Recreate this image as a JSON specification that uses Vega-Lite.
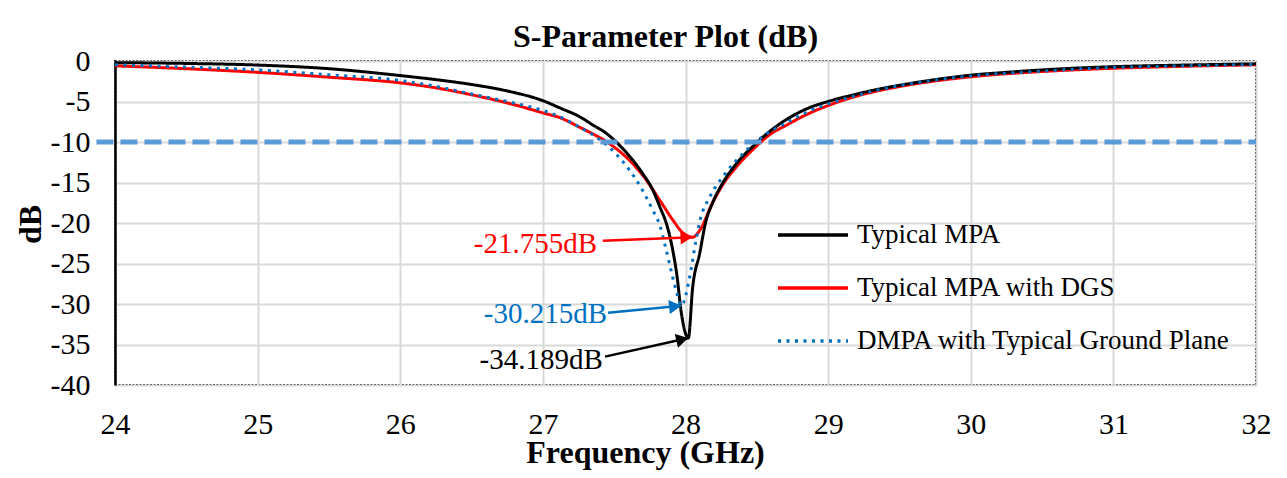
{
  "$schema": "https://vega.github.io/schema/vega-lite/v6.json",
  "width": 1141,
  "height": 324,
  "autosize": "none",
  "padding": {"left": 115, "top": 61, "right": 31, "bottom": 93},
  "background": "white",
  "title": {
    "text": "S-Parameter Plot (dB)",
    "font": "Liberation Serif",
    "fontSize": 32,
    "fontWeight": "bold",
    "color": "#000000",
    "anchor": "middle",
    "frame": "group",
    "dx": -20,
    "offset": 0,
    "dy": 8
  },
  "config": {
    "view": {"stroke": "#000000", "strokeWidth": 2, "strokeDash": [2, 1.5]},
    "axis": {
      "grid": true,
      "gridColor": "#d9d9d9",
      "gridWidth": 2,
      "ticks": false,
      "labelFont": "Liberation Serif",
      "labelFontSize": 30,
      "labelColor": "#000000",
      "labelFlush": false,
      "labelOverlap": false,
      "labelExpr": "toString(datum.value)",
      "titleFont": "Liberation Serif",
      "titleFontSize": 32,
      "titleFontWeight": "bold",
      "titleColor": "#000000"
    },
    "legend": {
      "orient": "none",
      "legendX": 661,
      "legendY": 137,
      "padding": 0,
      "symbolType": "stroke",
      "symbolSize": 4900,
      "symbolStrokeWidth": 3.5,
      "labelFont": "Liberation Serif",
      "labelFontSize": 27,
      "labelColor": "#000000",
      "labelLimit": 0,
      "labelOffset": 7,
      "rowPadding": 3
    }
  },
  "datasets": {
    "curves": [
      {"s": "Typical MPA with DGS", "f": 24.0, "db": -0.6},
      {"s": "Typical MPA with DGS", "f": 24.5, "db": -0.95},
      {"s": "Typical MPA with DGS", "f": 25.0, "db": -1.4},
      {"s": "Typical MPA with DGS", "f": 25.5, "db": -2.0},
      {"s": "Typical MPA with DGS", "f": 26.0, "db": -2.7},
      {"s": "Typical MPA with DGS", "f": 26.21, "db": -3.2},
      {"s": "Typical MPA with DGS", "f": 26.56, "db": -4.4},
      {"s": "Typical MPA with DGS", "f": 26.8, "db": -5.4},
      {"s": "Typical MPA with DGS", "f": 27.0, "db": -6.4},
      {"s": "Typical MPA with DGS", "f": 27.12, "db": -7.0},
      {"s": "Typical MPA with DGS", "f": 27.26, "db": -8.2},
      {"s": "Typical MPA with DGS", "f": 27.35, "db": -9.0},
      {"s": "Typical MPA with DGS", "f": 27.45, "db": -10.0},
      {"s": "Typical MPA with DGS", "f": 27.52, "db": -10.9},
      {"s": "Typical MPA with DGS", "f": 27.61, "db": -12.3},
      {"s": "Typical MPA with DGS", "f": 27.7, "db": -14.1},
      {"s": "Typical MPA with DGS", "f": 27.82, "db": -17.2},
      {"s": "Typical MPA with DGS", "f": 27.91, "db": -19.6},
      {"s": "Typical MPA with DGS", "f": 27.98, "db": -21.2},
      {"s": "Typical MPA with DGS", "f": 28.05, "db": -21.755},
      {"s": "Typical MPA with DGS", "f": 28.1, "db": -20.9},
      {"s": "Typical MPA with DGS", "f": 28.19, "db": -17.5},
      {"s": "Typical MPA with DGS", "f": 28.26, "db": -15.3},
      {"s": "Typical MPA with DGS", "f": 28.36, "db": -13.0},
      {"s": "Typical MPA with DGS", "f": 28.48, "db": -10.8},
      {"s": "Typical MPA with DGS", "f": 28.59, "db": -9.1},
      {"s": "Typical MPA with DGS", "f": 28.71, "db": -7.9},
      {"s": "Typical MPA with DGS", "f": 28.85, "db": -6.6},
      {"s": "Typical MPA with DGS", "f": 29.0, "db": -5.5},
      {"s": "Typical MPA with DGS", "f": 29.15, "db": -4.6},
      {"s": "Typical MPA with DGS", "f": 29.32, "db": -3.8},
      {"s": "Typical MPA with DGS", "f": 29.55, "db": -3.0},
      {"s": "Typical MPA with DGS", "f": 30.0, "db": -1.95},
      {"s": "Typical MPA with DGS", "f": 30.5, "db": -1.3},
      {"s": "Typical MPA with DGS", "f": 31.0, "db": -0.9},
      {"s": "Typical MPA with DGS", "f": 31.5, "db": -0.65},
      {"s": "Typical MPA with DGS", "f": 32.0, "db": -0.47},

      {"s": "Typical MPA", "f": 24.0, "db": -0.2},
      {"s": "Typical MPA", "f": 24.5, "db": -0.3},
      {"s": "Typical MPA", "f": 25.0, "db": -0.5},
      {"s": "Typical MPA", "f": 25.5, "db": -0.95},
      {"s": "Typical MPA", "f": 26.0, "db": -1.8},
      {"s": "Typical MPA", "f": 26.25, "db": -2.3},
      {"s": "Typical MPA", "f": 26.5, "db": -2.9},
      {"s": "Typical MPA", "f": 26.75, "db": -3.7},
      {"s": "Typical MPA", "f": 27.0, "db": -4.9},
      {"s": "Typical MPA", "f": 27.12, "db": -5.8},
      {"s": "Typical MPA", "f": 27.26, "db": -6.9},
      {"s": "Typical MPA", "f": 27.35, "db": -7.9},
      {"s": "Typical MPA", "f": 27.45, "db": -9.0},
      {"s": "Typical MPA", "f": 27.52, "db": -10.1},
      {"s": "Typical MPA", "f": 27.6, "db": -11.6},
      {"s": "Typical MPA", "f": 27.7, "db": -13.9},
      {"s": "Typical MPA", "f": 27.77, "db": -15.9},
      {"s": "Typical MPA", "f": 27.82, "db": -18.0},
      {"s": "Typical MPA", "f": 27.87, "db": -20.3},
      {"s": "Typical MPA", "f": 27.91, "db": -23.3},
      {"s": "Typical MPA", "f": 27.94, "db": -26.5},
      {"s": "Typical MPA", "f": 27.97, "db": -31.0},
      {"s": "Typical MPA", "f": 28.02, "db": -34.189},
      {"s": "Typical MPA", "f": 28.05, "db": -28.0},
      {"s": "Typical MPA", "f": 28.1, "db": -23.7},
      {"s": "Typical MPA", "f": 28.14, "db": -20.0},
      {"s": "Typical MPA", "f": 28.19, "db": -17.5},
      {"s": "Typical MPA", "f": 28.26, "db": -15.1},
      {"s": "Typical MPA", "f": 28.36, "db": -12.6},
      {"s": "Typical MPA", "f": 28.48, "db": -10.4},
      {"s": "Typical MPA", "f": 28.59, "db": -8.7},
      {"s": "Typical MPA", "f": 28.71, "db": -7.2},
      {"s": "Typical MPA", "f": 28.85, "db": -5.9},
      {"s": "Typical MPA", "f": 29.0, "db": -5.0},
      {"s": "Typical MPA", "f": 29.15, "db": -4.3},
      {"s": "Typical MPA", "f": 29.32, "db": -3.6},
      {"s": "Typical MPA", "f": 29.55, "db": -2.85},
      {"s": "Typical MPA", "f": 29.75, "db": -2.3},
      {"s": "Typical MPA", "f": 30.0, "db": -1.75},
      {"s": "Typical MPA", "f": 30.25, "db": -1.4},
      {"s": "Typical MPA", "f": 30.5, "db": -1.1},
      {"s": "Typical MPA", "f": 31.0, "db": -0.7},
      {"s": "Typical MPA", "f": 31.5, "db": -0.5},
      {"s": "Typical MPA", "f": 32.0, "db": -0.35},

      {"s": "DMPA with Typical Ground Plane", "f": 24.0, "db": -0.45},
      {"s": "DMPA with Typical Ground Plane", "f": 24.5, "db": -0.75},
      {"s": "DMPA with Typical Ground Plane", "f": 25.0, "db": -1.1},
      {"s": "DMPA with Typical Ground Plane", "f": 25.5, "db": -1.7},
      {"s": "DMPA with Typical Ground Plane", "f": 26.0, "db": -2.4},
      {"s": "DMPA with Typical Ground Plane", "f": 26.21, "db": -3.0},
      {"s": "DMPA with Typical Ground Plane", "f": 26.56, "db": -4.3},
      {"s": "DMPA with Typical Ground Plane", "f": 26.8, "db": -5.2},
      {"s": "DMPA with Typical Ground Plane", "f": 27.0, "db": -6.1},
      {"s": "DMPA with Typical Ground Plane", "f": 27.12, "db": -6.9},
      {"s": "DMPA with Typical Ground Plane", "f": 27.26, "db": -8.2},
      {"s": "DMPA with Typical Ground Plane", "f": 27.35, "db": -9.1},
      {"s": "DMPA with Typical Ground Plane", "f": 27.45, "db": -10.4},
      {"s": "DMPA with Typical Ground Plane", "f": 27.52, "db": -11.6},
      {"s": "DMPA with Typical Ground Plane", "f": 27.6, "db": -13.3},
      {"s": "DMPA with Typical Ground Plane", "f": 27.7, "db": -16.0},
      {"s": "DMPA with Typical Ground Plane", "f": 27.77, "db": -18.4},
      {"s": "DMPA with Typical Ground Plane", "f": 27.82, "db": -20.3},
      {"s": "DMPA with Typical Ground Plane", "f": 27.86, "db": -23.0},
      {"s": "DMPA with Typical Ground Plane", "f": 27.89, "db": -25.2},
      {"s": "DMPA with Typical Ground Plane", "f": 27.94, "db": -28.7},
      {"s": "DMPA with Typical Ground Plane", "f": 27.97, "db": -30.215},
      {"s": "DMPA with Typical Ground Plane", "f": 28.03, "db": -26.6},
      {"s": "DMPA with Typical Ground Plane", "f": 28.07, "db": -22.5},
      {"s": "DMPA with Typical Ground Plane", "f": 28.1, "db": -19.8},
      {"s": "DMPA with Typical Ground Plane", "f": 28.17, "db": -16.8},
      {"s": "DMPA with Typical Ground Plane", "f": 28.27, "db": -14.1},
      {"s": "DMPA with Typical Ground Plane", "f": 28.41, "db": -11.3},
      {"s": "DMPA with Typical Ground Plane", "f": 28.55, "db": -9.2},
      {"s": "DMPA with Typical Ground Plane", "f": 28.71, "db": -7.6},
      {"s": "DMPA with Typical Ground Plane", "f": 28.92, "db": -5.8},
      {"s": "DMPA with Typical Ground Plane", "f": 29.0, "db": -5.3},
      {"s": "DMPA with Typical Ground Plane", "f": 29.15, "db": -4.5},
      {"s": "DMPA with Typical Ground Plane", "f": 29.32, "db": -3.7},
      {"s": "DMPA with Typical Ground Plane", "f": 29.55, "db": -2.9},
      {"s": "DMPA with Typical Ground Plane", "f": 30.0, "db": -1.85},
      {"s": "DMPA with Typical Ground Plane", "f": 30.5, "db": -1.25},
      {"s": "DMPA with Typical Ground Plane", "f": 31.0, "db": -0.8},
      {"s": "DMPA with Typical Ground Plane", "f": 31.5, "db": -0.6},
      {"s": "DMPA with Typical Ground Plane", "f": 32.0, "db": -0.43}
    ],
    "callouts": [
      {"s": "Typical MPA with DGS", "label": "-21.755dB", "f_text": 27.38, "db_text": -22.6, "f_from": 27.42, "db_from": -22.2, "f_tip": 28.05, "db_tip": -21.755},
      {"s": "DMPA with Typical Ground Plane", "label": "-30.215dB", "f_text": 27.45, "db_text": -31.2, "f_from": 27.457, "db_from": -31.07, "f_tip": 27.97, "db_tip": -30.215},
      {"s": "Typical MPA", "label": "-34.189dB", "f_text": 27.42, "db_text": -36.9, "f_from": 27.436, "db_from": -36.5, "f_tip": 28.02, "db_tip": -34.189}
    ],
    "threshold": [
      {"level": -10}
    ]
  },
  "layer": [
    {
      "data": {"name": "curves"},
      "mark": {"type": "line", "strokeWidth": 3, "interpolate": "monotone"},
      "encoding": {
        "x": {
          "field": "f",
          "type": "quantitative",
          "scale": {"domain": [24, 32], "nice": false, "zero": false},
          "axis": {
            "values": [24, 25, 26, 27, 28, 29, 30, 31, 32],
            "title": "Frequency (GHz)",
            "domain": false,
            "labelPadding": 24,
            "titleX": 530,
            "titleY": 77,
            "titleAlign": "center",
            "titleBaseline": "alphabetic"
          }
        },
        "y": {
          "field": "db",
          "type": "quantitative",
          "scale": {"domain": [-40, 0], "nice": false, "zero": false},
          "axis": {
            "values": [0, -5, -10, -15, -20, -25, -30, -35, -40],
            "title": "dB",
            "domain": true,
            "domainColor": "#000000",
            "domainWidth": 2.5,
            "labelPadding": 25,
            "titleX": -75,
            "titleY": 163,
            "titleAlign": "center",
            "titleBaseline": "alphabetic",
            "titleAngle": 270
          }
        },
        "color": {
          "field": "s",
          "type": "nominal",
          "scale": {
            "domain": ["Typical MPA", "Typical MPA with DGS", "DMPA with Typical Ground Plane"],
            "range": ["#000000", "#FF0000", "#0070C0"]
          },
          "legend": {"title": null}
        },
        "strokeDash": {
          "field": "s",
          "type": "nominal",
          "scale": {
            "domain": ["Typical MPA", "Typical MPA with DGS", "DMPA with Typical Ground Plane"],
            "range": [[1, 0], [1, 0], [3, 5.5]]
          },
          "legend": {"title": null}
        }
      }
    },
    {
      "data": {"name": "threshold"},
      "mark": {"type": "rule", "color": "#5B9BD5", "strokeWidth": 5, "strokeDash": [17, 7]},
      "encoding": {
        "x": {"datum": 23.87},
        "x2": {"datum": 32},
        "y": {"field": "level", "type": "quantitative"}
      }
    },
    {
      "data": {"name": "callouts"},
      "mark": {"type": "rule", "strokeWidth": 2.5},
      "encoding": {
        "x": {"field": "f_from", "type": "quantitative"},
        "y": {"field": "db_from", "type": "quantitative"},
        "x2": {"field": "f_tip"},
        "y2": {"field": "db_tip"},
        "color": {"field": "s", "type": "nominal", "legend": null}
      }
    },
    {
      "data": {"name": "callouts"},
      "mark": {"type": "text", "align": "right", "baseline": "middle", "font": "Liberation Serif", "fontSize": 29},
      "encoding": {
        "x": {"field": "f_text", "type": "quantitative"},
        "y": {"field": "db_text", "type": "quantitative"},
        "text": {"field": "label"},
        "color": {"field": "s", "type": "nominal", "legend": null}
      }
    },
    {
      "data": {"name": "callouts"},
      "transform": [{"filter": "datum.s === 'Typical MPA with DGS'"}],
      "mark": {"type": "point", "shape": "triangle-right", "filled": true, "opacity": 1, "size": 200, "angle": -2, "xOffset": -6},
      "encoding": {
        "x": {"field": "f_tip", "type": "quantitative"},
        "y": {"field": "db_tip", "type": "quantitative"},
        "color": {"field": "s", "type": "nominal", "legend": null}
      }
    },
    {
      "data": {"name": "callouts"},
      "transform": [{"filter": "datum.s === 'DMPA with Typical Ground Plane'"}],
      "mark": {"type": "point", "shape": "triangle-right", "filled": true, "opacity": 1, "size": 200, "angle": -6, "xOffset": -6, "yOffset": 0.7},
      "encoding": {
        "x": {"field": "f_tip", "type": "quantitative"},
        "y": {"field": "db_tip", "type": "quantitative"},
        "color": {"field": "s", "type": "nominal", "legend": null}
      }
    },
    {
      "data": {"name": "callouts"},
      "transform": [{"filter": "datum.s === 'Typical MPA'"}],
      "mark": {"type": "point", "shape": "triangle-right", "filled": true, "opacity": 1, "size": 200, "angle": -13, "xOffset": -6, "yOffset": 1.5},
      "encoding": {
        "x": {"field": "f_tip", "type": "quantitative"},
        "y": {"field": "db_tip", "type": "quantitative"},
        "color": {"field": "s", "type": "nominal", "legend": null}
      }
    }
  ]
}
